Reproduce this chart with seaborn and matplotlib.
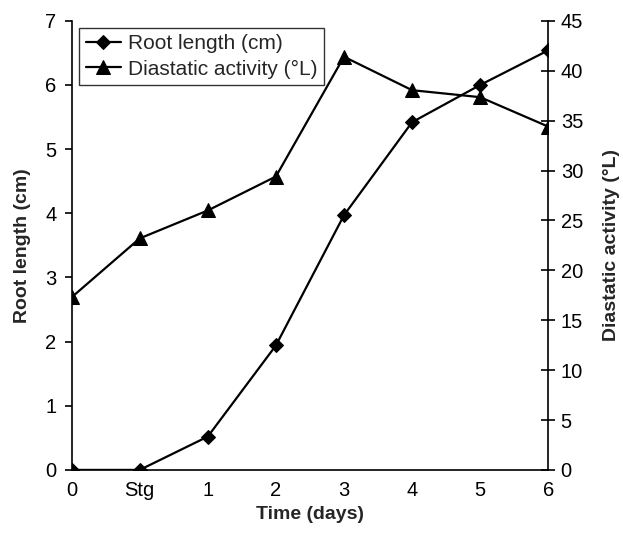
import pandas as pd
import seaborn as sns
import matplotlib.pyplot as plt
import matplotlib.ticker as mticker

# data
days = ['0', 'Stg', '1', '2', '3', '4', '5', '6']
root_length = [0.0, 0.0, 0.52, 1.94, 3.97, 5.42, 6.0, 6.54]
diastatic = [17.3, 23.2, 26.0, 29.4, 41.4, 38.05, 37.35, 34.4]

df = pd.DataFrame({'pos': range(len(days)), 'day': days,
                   'root': root_length, 'dia': diastatic})

sns.set_style('white')
plt.rcParams['font.family'] = ['Liberation Sans', 'DejaVu Sans']

fig = plt.figure(figsize=(6.23, 5.34), dpi=100)
ax = fig.add_axes([0.115, 0.12, 0.765, 0.841])
ax2 = ax.twinx()

sns.lineplot(data=df, x='pos', y='root', ax=ax, color='black', marker='D',
             markersize=7.5, linewidth=1.6, markeredgecolor='black',
             label='Root length (cm)', legend=False)
sns.lineplot(data=df, x='pos', y='dia', ax=ax2, color='black', marker='^',
             markersize=10, linewidth=1.6, markeredgecolor='black',
             label='Diastatic activity (°L)', legend=False)

ax.set_xlim(0, 7)
ax.set_ylim(0, 7)
ax2.set_ylim(0, 45)
ax.set_xticks(range(len(days)))
ax.set_xticklabels(days)
ax.yaxis.set_major_locator(mticker.MultipleLocator(1))
ax2.yaxis.set_major_locator(mticker.MultipleLocator(5))

for a in (ax, ax2):
    a.spines['top'].set_visible(False)
    for s in a.spines.values():
        s.set_color('black')
        s.set_linewidth(1.2)
ax.spines['right'].set_visible(False)
ax2.spines['left'].set_visible(False)
ax2.spines['bottom'].set_visible(False)

ax.tick_params(axis='y', direction='out', length=5, width=1.2, colors='black',
               labelsize=14.5, left=True, pad=6)
ax.tick_params(axis='x', length=0, labelsize=14.5, pad=8, colors='black')
ax2.tick_params(axis='y', direction='inout', length=10, width=1.2, colors='black',
                labelsize=14.5, right=True, pad=4)

ax.set_xlabel('Time (days)', fontsize=14, fontweight='bold', labelpad=4)
ax.set_ylabel('Root length (cm)', fontsize=14, fontweight='bold', labelpad=10)
ax2.set_ylabel('Diastatic activity (°L)', fontsize=14, fontweight='bold', labelpad=14)

h1, l1 = ax.get_legend_handles_labels()
h2, l2 = ax2.get_legend_handles_labels()
leg = ax2.legend(h1 + h2, l1 + l2, loc='upper left', bbox_to_anchor=(0.016, 0.984),
                 fontsize=15, frameon=True, fancybox=False, borderpad=0.3,
                 labelspacing=0.3, handlelength=1.7, handletextpad=0.35,
                 borderaxespad=0)
leg.get_frame().set_edgecolor('black')
leg.get_frame().set_linewidth(1.0)

plt.savefig('out.png', dpi=100)
plt.close()
